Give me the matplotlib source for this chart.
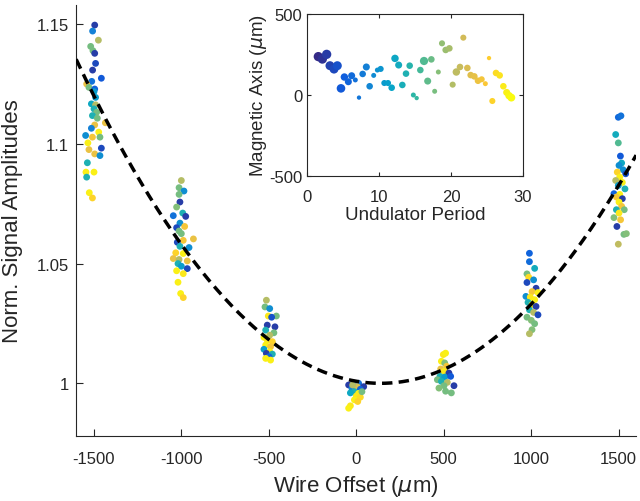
import numpy as np
import matplotlib
matplotlib.use("Agg")
import matplotlib.pyplot as plt
from matplotlib.colors import LinearSegmentedColormap

plt.rcParams["font.family"] = ["Liberation Sans", "DejaVu Sans"]
plt.rcParams["axes.unicode_minus"] = False

# parula-like colormap (MATLAB default)
parula = LinearSegmentedColormap.from_list("parula", [
    "#352A87", "#0F5CDD", "#1481D6", "#06A4CA", "#2EB7A4",
    "#87BF77", "#D1BB59", "#FEC832", "#F9FB0E"])

# ---- main data: wire offset clusters (x in um, amplitude, colour 0..1) ----
c1_x = [-1494, -1506, -1473, -1517, -1504, -1494, -1489, -1506, -1456, -1511, -1540, -1527, -1494,
        -1498, -1489, -1513, -1489, -1498, -1483, -1507, -1479, -1433, -1494, -1513, -1471, -1546,
        -1507, -1464, -1533, -1456, -1527, -1494, -1464, -1536, -1544, -1498, -1540, -1525, -1507]
c1_y = [1.1496, 1.1471, 1.1433, 1.1407, 1.1389, 1.1378, 1.1336, 1.1308, 1.1274, 1.1261, 1.1250, 1.1236,
        1.1229, 1.1218, 1.1194, 1.1167, 1.1163, 1.1146, 1.1132, 1.1118, 1.1107, 1.1088, 1.1079, 1.1065,
        1.1049, 1.1035, 1.1028, 1.1028, 1.1004, 1.0982, 1.0976, 1.0958, 1.0951, 1.0921, 1.0882, 1.0882,
        1.0861, 1.0796, 1.0774]
c1_c = [0.05, 0.25, 0.7, 0.6, 0.6, 0.05, 0.08, 0.05, 0.12, 0.2, 0.82, 0.6, 0.15, 0.35, 0.35, 0.4, 0.7,
        0.45, 0.6, 0.45, 0.6, 0.82, 0.82, 0.25, 0.97, 0.3, 0.85, 0.6, 0.97, 0.08, 0.82, 0.82, 0.3, 0.45,
        0.97, 0.97, 0.45, 0.97, 0.9]

c2_x = [-999, -1012, -984, -1012, -1007, -1026, -1045, -991, -974, -1007, -980, -1026, -1012, -999,
        -930, -988, -1022, -955, -1007, -1031, -988, -1045, -1012, -965, -1018, -999, -965, -1026,
        -988, -1018, -1003, -988]
c2_y = [1.0847, 1.0817, 1.0803, 1.0789, 1.0757, 1.0736, 1.0700, 1.0711, 1.0697, 1.0669, 1.0655, 1.0650,
        1.0636, 1.0625, 1.0603, 1.0597, 1.0589, 1.0567, 1.0572, 1.0545, 1.0542, 1.0521, 1.0517, 1.0511,
        1.0500, 1.0489, 1.0479, 1.0470, 1.0458, 1.0422, 1.0375, 1.0358]
c2_c = [0.7, 0.6, 0.3, 0.6, 0.05, 0.62, 0.2, 0.45, 0.05, 0.3, 0.85, 0.08, 0.6, 0.6, 0.82, 0.85, 0.08,
        0.3, 0.45, 0.9, 0.97, 0.82, 0.7, 0.82, 0.45, 0.35, 0.08, 0.97, 0.95, 0.97, 0.97, 0.9]

c3_x = [-513, -521, -494, -502, -456, -483, -508, -464, -517, -470, -494, -527, -508, -479, -517,
        -489, -527, -494, -513, -479, -498, -517, -489]
c3_y = [1.0347, 1.0319, 1.0312, 1.0281, 1.0281, 1.0276, 1.0243, 1.0236, 1.0222, 1.0211, 1.0201, 1.0192,
        1.0180, 1.0174, 1.0160, 1.0153, 1.0142, 1.0132, 1.0125, 1.0122, 1.0111, 1.0104, 1.0097]
c3_c = [0.7, 0.6, 0.3, 0.95, 0.6, 0.1, 0.05, 0.05, 0.45, 0.6, 0.7, 0.97, 0.95, 0.9, 0.97, 0.85, 0.35,
        0.97, 0.05, 0.45, 0.15, 0.97, 0.97]

c4_x = [-43, -10, 14, 43, -24, 5, 24, -10, -33, 14, 1, 24, -10, 9, -33, -43, 33, -20]
c4_y = [0.9993, 1.0000, 1.0000, 0.9986, 0.9979, 0.9986, 0.9975, 0.9965, 0.9960, 0.9958, 0.9947, 0.9942,
        0.9931, 0.9924, 0.9906, 0.9896, 0.9965, 0.9993]
c4_c = [0.05, 0.08, 0.2, 0.05, 0.25, 0.78, 0.15, 0.45, 0.4, 0.97, 0.95, 0.92, 0.97, 0.9, 0.95, 0.97,
        0.6, 0.7]

c5_x = [498, 511, 487, 506, 517, 483, 502, 530, 479, 506, 540, 464, 487, 521, 559, 502, 473, 511, 544]
c5_y = [1.0120, 1.0126, 1.0092, 1.0085, 1.0071, 1.0060, 1.0050, 1.0043, 1.0029, 1.0026, 1.0029, 1.0015,
        1.0008, 1.0004, 0.9990, 0.9990, 0.9980, 0.9967, 0.9960]
c5_c = [0.95, 0.97, 0.97, 0.62, 0.85, 0.82, 0.95, 0.05, 0.45, 0.35, 0.12, 0.6, 0.45, 0.7, 0.05, 0.6,
        0.62, 0.6, 0.6]

c6_x = [990, 990, 1020, 976, 986, 1014, 976, 1028, 1005, 1039, 970, 995, 1020, 982, 1005, 1028, 990,
        1014, 1039, 976, 1001, 1020, 1005, 990]
c6_y = [1.0543, 1.0508, 1.0480, 1.0457, 1.0443, 1.0432, 1.0421, 1.0397, 1.0383, 1.0379, 1.0363, 1.0360,
        1.0349, 1.0338, 1.0328, 1.0321, 1.0307, 1.0296, 1.0286, 1.0276, 1.0263, 1.0249, 1.0224, 1.0207]
c6_c = [0.15, 0.18, 0.42, 0.6, 0.92, 0.3, 0.08, 0.05, 0.85, 0.97, 0.3, 0.95, 0.97, 0.45, 0.97, 0.05,
        0.45, 0.7, 0.08, 0.6, 0.62, 0.6, 0.62, 0.7]

c7_x = [1498, 1513, 1483, 1498, 1510, 1517, 1502, 1525, 1492, 1540, 1506, 1483, 1521, 1498, 1536, 1473,
        1506, 1487, 1521, 1502, 1517, 1487, 1532, 1502, 1473, 1511, 1490, 1530, 1544, 1498]
c7_y = [1.1111, 1.1117, 1.1039, 1.1004, 1.0949, 1.0920, 1.0910, 1.0892, 1.0882, 1.0875, 1.0861, 1.0847,
        1.0839, 1.0826, 1.0812, 1.0792, 1.0789, 1.0778, 1.0771, 1.0757, 1.0739, 1.0725, 1.0725, 1.0711,
        1.0692, 1.0683, 1.0655, 1.0622, 1.0625, 1.0581]
c7_c = [0.17, 0.2, 0.42, 0.55, 0.12, 0.4, 0.3, 0.3, 0.9, 0.1, 0.97, 0.7, 0.97, 0.35, 0.45, 0.15, 0.97,
        0.85, 0.05, 0.97, 0.85, 0.45, 0.6, 0.95, 0.62, 0.85, 0.05, 0.6, 0.62, 0.72]

# quadratic fit y = a*(x - x0)^2 + c
fit_a = 4.47e-8
fit_x0 = 140.0
fit_c = 1.0

# ---- inset data: magnetic axis vs undulator period ----
period = [1.57, 2.13, 2.73, 3.19, 3.75, 4.21, 4.72, 5.19, 5.74, 6.2, 6.71, 7.22, 7.73, 8.24, 8.7,
          9.26, 9.77, 10.23, 10.74, 11.25, 11.76, 12.22, 12.73, 13.24, 13.75, 14.26, 14.77, 15.23,
          15.74, 16.25, 16.76, 17.27, 17.73, 18.24, 18.75, 19.26, 19.77, 20.23, 20.74, 21.25, 21.71,
          22.27, 22.73, 23.24, 23.75, 24.26, 24.77, 25.28, 25.74, 26.25, 26.76, 27.27, 27.73, 28.06,
          28.38]
mag_axis = [237, 222, 251, 181, 160, 181, 41, 111, 82, 119, 93, -16, 130, 173, 54, 121, 154, 161, 74,
            74, 45, 226, 185, 62, 132, 181, 0, -19, 154, 210, 86, 220, 23, 142, 319, 278, 288, 64, 142,
            173, 354, 167, 123, 115, 88, 97, 70, 228, -37, 136, 121, 54, 16, -4, -16]
mag_size = [28, 28, 28, 26, 26, 26, 24, 18, 16, 16, 8, 6, 14, 16, 14, 8, 8, 12, 12, 12, 14, 18, 16,
            14, 14, 14, 8, 6, 14, 22, 16, 14, 8, 8, 12, 14, 14, 12, 18, 14, 12, 14, 14, 14, 14, 12, 8,
            6, 12, 14, 14, 14, 16, 18, 20]

fig = plt.figure(figsize=(6.4, 5.02), dpi=100)
ax = fig.add_axes([0.119, 0.1295, 0.875, 0.8586])

for xs, ys, cs in [(c1_x, c1_y, c1_c), (c2_x, c2_y, c2_c), (c3_x, c3_y, c3_c), (c4_x, c4_y, c4_c),
                   (c5_x, c5_y, c5_c), (c6_x, c6_y, c6_c), (c7_x, c7_y, c7_c)]:
    ax.scatter(xs, ys, c=cs, cmap=parula, vmin=0, vmax=1, s=24, edgecolors="none", zorder=2)

xf = np.linspace(-1600, 1600, 300)
ax.plot(xf, fit_a * (xf - fit_x0) ** 2 + fit_c, color="black", lw=2.5, dashes=(3, 1.8), zorder=3)

ax.set_xlim(-1600, 1600)
ax.set_ylim(0.978, 1.158)
ax.set_xticks([-1500, -1000, -500, 0, 500, 1000, 1500])
ax.set_yticks([1, 1.05, 1.1, 1.15])
ax.set_yticklabels(["1", "1.05", "1.1", "1.15"])
ax.spines["top"].set_visible(False)
ax.spines["right"].set_visible(False)
for s in ["left", "bottom"]:
    ax.spines[s].set_color("#262626")
    ax.spines[s].set_linewidth(0.8)
ax.tick_params(direction="in", length=5, width=0.8, colors="#262626", labelsize=12,
               labelcolor="#262626")
ax.tick_params(axis="x", pad=11)
ax.tick_params(axis="y", pad=5)
ax.set_xlabel(r"Wire Offset ($\mu$m)", fontsize=16, color="#262626", labelpad=5)
ax.set_ylabel("Norm. Signal Amplitudes", fontsize=16, color="#262626", labelpad=10)

# inset
axi = fig.add_axes([0.4797, 0.6474, 0.3375, 0.3227])
axi.scatter(period, mag_axis, c=period, cmap=parula, s=[v * 1.6 for v in mag_size],
            edgecolors="none")
axi.set_xlim(0, 30)
axi.set_ylim(-500, 500)
axi.set_xticks([0, 10, 20, 30])
axi.set_yticks([-500, 0, 500])
for s in axi.spines.values():
    s.set_color("#262626")
    s.set_linewidth(0.8)
axi.tick_params(direction="in", length=3, width=0.8, top=True, right=True, labelsize=12,
                colors="#262626", labelcolor="#262626")
axi.tick_params(axis="x", pad=9)
axi.set_xlabel("Undulator Period", fontsize=13.5, color="#262626", labelpad=2)
axi.set_ylabel(r"Magnetic Axis ($\mu$m)", fontsize=13.5, color="#262626", labelpad=0)

fig.savefig("out.png", dpi=100)
